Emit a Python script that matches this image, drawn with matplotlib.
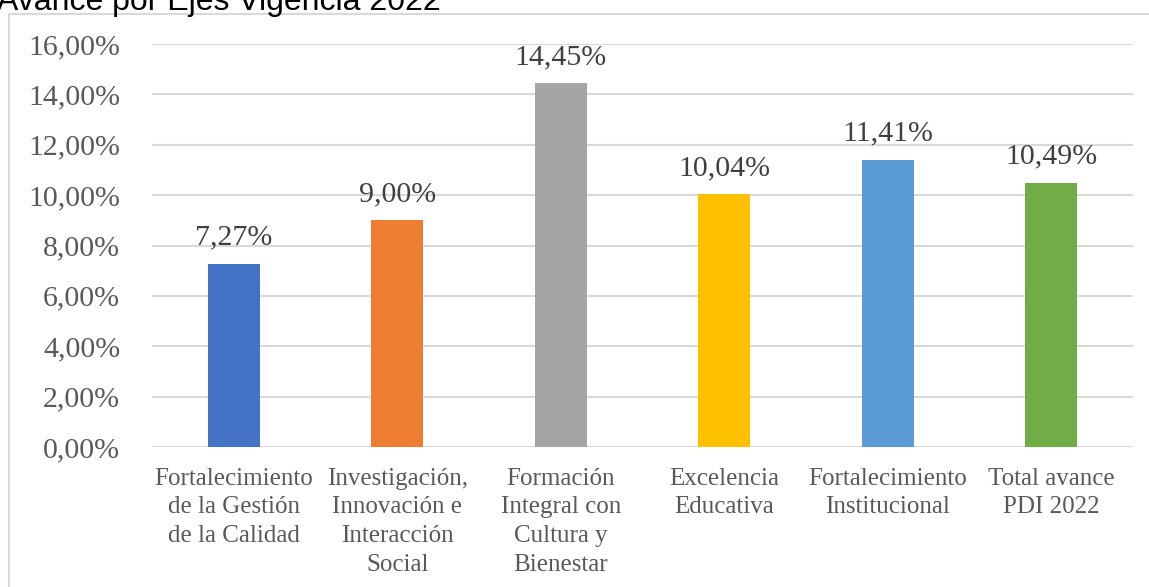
import matplotlib
matplotlib.use("Agg")
import matplotlib.pyplot as plt
from matplotlib.lines import Line2D
from matplotlib.ticker import FuncFormatter

categorias = ["Fortalecimiento\nde la Gestión\nde la Calidad",
              "Investigación,\nInnovación e\nInteracción\nSocial",
              "Formación\nIntegral con\nCultura y\nBienestar",
              "Excelencia\nEducativa",
              "Fortalecimiento\nInstitucional",
              "Total avance\nPDI 2022"]
valores = [7.27, 9.00, 14.45, 10.04, 11.41, 10.49]
colores = ["#4472C4", "#ED7D31", "#A5A5A5", "#FFC000", "#5B9BD5", "#70AD47"]
titulo = "Avance por Ejes Vigencia 2022"

W, H = 1149, 587
fig = plt.figure(figsize=(W / 100, H / 100), dpi=100)
ax = fig.add_axes([152 / W, 1 - 447 / H, (1133 - 152) / W, (447 - 44) / H])

x = range(len(categorias))
bars = ax.bar(x, valores, width=0.32, color=colores, zorder=3)

ax.set_xlim(-0.5, len(categorias) - 0.5)
ax.set_ylim(0, 16)
ax.set_yticks(range(0, 17, 2))
ax.yaxis.set_major_formatter(FuncFormatter(lambda v, p: f"{v:.2f}%".replace(".", ",")))
ax.grid(axis="y", color="#d9d9d9", linewidth=1.5, zorder=0)
for s in ax.spines.values():
    s.set_visible(False)
ax.tick_params(length=0)
ax.tick_params(axis="y", pad=23, labelsize=21.5, labelcolor="#595959")
ax.set_xticks(list(x))
ax.set_xticklabels(categorias, fontsize=18, color="#595959", linespacing=1.39)
ax.tick_params(axis="x", pad=15)
for lab in ax.get_yticklabels() + ax.get_xticklabels():
    lab.set_family("Liberation Serif")

for b, v in zip(bars, valores):
    ax.text(b.get_x() + b.get_width() / 2, v + 0.52, f"{v:.2f}%".replace(".", ","),
            ha="center", va="bottom", fontsize=21.5, color="#404040",
            family="Liberation Serif")

# marco del gráfico
fig.add_artist(Line2D([8.5 / W, 8.5 / W], [0, 1 - 13.5 / H], color="#d9d9d9", linewidth=1.5))
fig.add_artist(Line2D([8.5 / W, 1], [1 - 13.5 / H, 1 - 13.5 / H], color="#d9d9d9", linewidth=1.5))

fig.text(-3 / W, 1 - 10 / H, titulo, ha="left", va="baseline", fontsize=23,
         family="Liberation Sans", color="black")

fig.savefig("out.png", dpi=100)
